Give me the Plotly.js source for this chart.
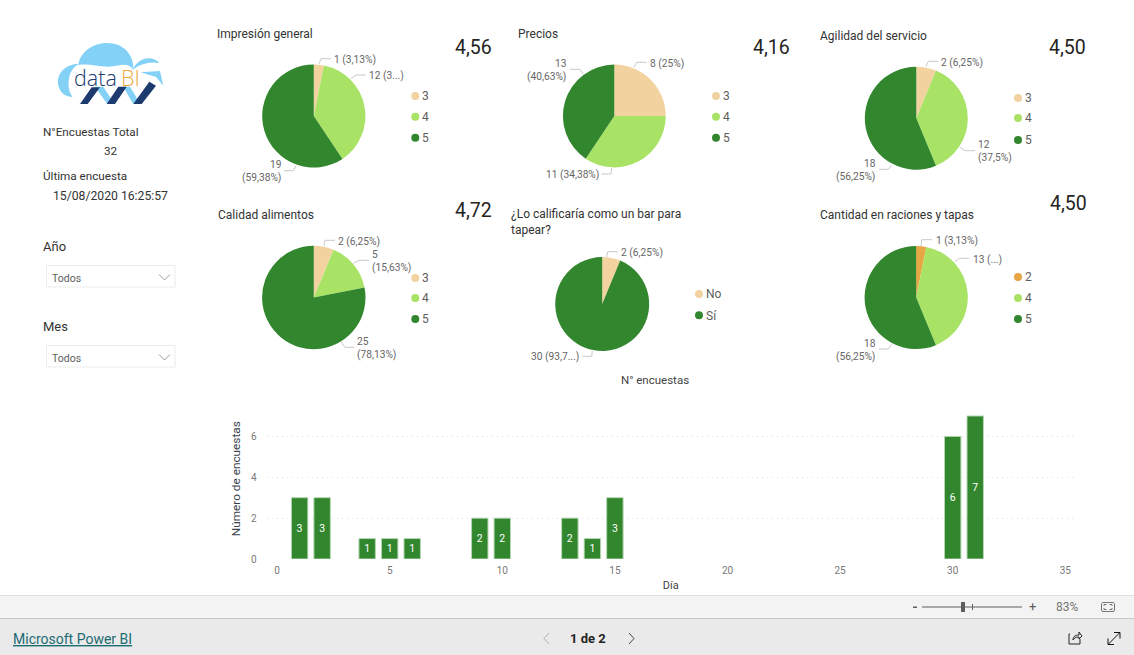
<!DOCTYPE html>
<html><head><meta charset="utf-8">
<script src="https://cdn.plot.ly/plotly-3.0.1.min.js"></script>
<style>html,body{margin:0;padding:0;background:#fff;overflow:hidden}#c{width:1134px;height:655px}</style>
</head><body><div id="c"></div>
<script>
// ---- data ----
const pieTitles = ["Impresión general","Precios","Agilidad del servicio","Calidad alimentos","¿Lo calificaría como un bar para<br>tapear?","Cantidad en raciones y tapas"];
const pieLabels1 = ["3","4","5"];
const pieValues1 = [1,12,19];
const pieLabels2 = ["3","4","5"];
const pieValues2 = [8,11,13];
const pieLabels3 = ["3","4","5"];
const pieValues3 = [2,12,18];
const pieLabels4 = ["3","4","5"];
const pieValues4 = [2,5,25];
const pieLabels5 = ["No","Sí"];
const pieValues5 = [2,30];
const pieLabels6 = ["2","4","5"];
const pieValues6 = [1,13,18];
const kpiValues = ["4,56","4,16","4,50","4,72","4,50"];
const days = [1,2,4,5,6,9,10,13,14,15,30,31];
const surveys = [3,3,1,1,1,2,2,2,1,3,6,7];

// ---- style / layout helpers ----
const W=1134,H=655;
const FONT="Roboto, sans-serif";
const colorOf={"2":"#E8A544","3":"#F2D3A0","4":"#A8E366","5":"#32872E","No":"#F2D3A0","Sí":"#32872E"};
const X=x=>x/W, Y=y=>1-y/H;
const shapes=[],ann=[];
function P(d){let i=0;return d.replace(/-?\d+(\.\d+)?/g,m=>{const v=(i++%2===0)?X(+m):Y(+m);return v.toFixed(5);});}
function path(d,o){shapes.push(Object.assign({type:"path",xref:"paper",yref:"paper",path:P(d),line:{width:0}},o));}
function rect(x0,y0,x1,y1,o){shapes.push(Object.assign({type:"rect",xref:"paper",yref:"paper",x0:X(x0),x1:X(x1),y0:Y(y0),y1:Y(y1),line:{width:0}},o));}
function dot(x,y,r,c){shapes.push({type:"circle",xref:"paper",yref:"paper",x0:X(x-r),x1:X(x+r),y0:Y(y+r),y1:Y(y-r),fillcolor:c,line:{width:0}});}
function T(text,x,y,size,color,anchor,extra){
  const dx=anchor==="right"?1.5:(anchor==="center"?0:-1);
  ann.push(Object.assign({text,xref:"paper",yref:"paper",x:X(x+dx),y:Y(y),xanchor:anchor||"left",yanchor:"middle",align:anchor==="right"?"right":(anchor==="center"?"center":"left"),showarrow:false,borderpad:0,font:{family:FONT,size,color}},extra||{}));}
const leader={line:{color:"#c8c8c8",width:1}};
function L(a,b,c){path(`M${a[0]},${a[1]} L${b[0]},${b[1]} L${c[0]},${c[1]}`,leader);}

// ---- pies ----
const pieGeom=[[313.8,116,51.6],[614.3,116,51.4],[916.3,118.2,51.5],[313.8,297.5,51.7],[602.2,304,47],[916.2,297.5,51.6]];
const pieL=[pieLabels1,pieLabels2,pieLabels3,pieLabels4,pieLabels5,pieLabels6];
const pieV=[pieValues1,pieValues2,pieValues3,pieValues4,pieValues5,pieValues6];
const traces=pieGeom.map((g,i)=>({
  type:"pie",labels:pieL[i],values:pieV[i],sort:false,direction:"clockwise",rotation:0,
  textinfo:"none",hoverinfo:"label+value+percent",
  marker:{colors:pieL[i].map(l=>colorOf[l]),line:{width:0}},
  domain:{x:[X(g[0]-g[2]),X(g[0]+g[2])],y:[Y(g[1]+g[2]),Y(g[1]-g[2])]}
}));
traces.push({type:"bar",x:days,y:surveys,width:0.73,text:surveys.map(String),textposition:"inside",insidetextanchor:"middle",textangle:0,
  insidetextfont:{family:FONT,size:10.5,color:"#fff"},marker:{color:"#32872E",line:{color:"#b4d6b2",width:1}},xaxis:"x",yaxis:"y",cliponaxis:false});

// pie titles
const titlePos=[[217,34],[518,34],[819.5,36],[217.5,215],[510.5,221.5],[819.5,215]];
pieTitles.forEach((t,i)=>T(t,titlePos[i][0],titlePos[i][1],12,"#333"));
// KPI numbers
const kpiPos=[[491.5,48],[789.5,48],[1085.5,47],[491,211],[1086.5,203]];
kpiValues.forEach((t,i)=>T(t,kpiPos[i][0],kpiPos[i][1],19.5,"#252423","right"));

// legends
const legPos=[[415.3,[96,116.7,137.7]],[716,[96,116.7,137.7]],[1018,[98,118,140]],[415.3,[278,298,319]],[699,[294,315.3]],[1018,[277,298,319]]];
legPos.forEach((p,i)=>{pieL[i].forEach((l,k)=>{dot(p[0],p[1][k],4,colorOf[l]);T(l,p[0]+6.8,p[1][k]+0.3,12,"#605E5C");});});

// data labels with leaders
const lab="#666",LS=10.2;
L([319,63.7],[321,58.7],[330.7,58.7]);T("1 (3,13%)",333.7,60,LS,lab);
L([351,78.7],[356,75],[365.7,75]);T("12 (3...)",368.7,76,LS,lab);
L([296,165.7],[293.3,170.7],[284,170.7]);T("19<br>(59,38%)",281,171.5,LS,lab,"right");
L([634,67],[636.7,62.3],[646.7,62.3]);T("8 (25%)",649.7,63.7,LS,lab);
L([583.3,74],[580,69.3],[570,69.3]);T("13<br>(40,63%)",566,70.5,LS,lab,"right");
L([611.7,168],[611,174],[601.7,174]);T("11 (34,38%)",598,175,LS,lab,"right");
L([926,66.7],[928.3,61.3],[938.3,61.3]);T("2 (6,25%)",941,62.7,LS,lab);
L([960,147.3],[965,150.7],[975,150.7]);T("12<br>(37,5%)",977.7,151,LS,lab);
L([891.7,165],[888.3,169.3],[879,169.3]);T("18<br>(56,25%)",875.7,170.5,LS,lab,"right");
L([324,245.7],[325,240.3],[335,240.3]);T("2 (6,25%)",338.3,242,LS,lab);
L([353.3,263.3],[359,260.3],[369,260.3]);T("5<br>(15,63%)",372.3,261.5,LS,lab);
L([341,341.7],[345,347.3],[354.3,347.3]);T("25<br>(78,13%)",357,348.5,LS,lab);
L([606.7,257],[607.7,251.7],[617.7,251.7]);T("2 (6,25%)",621,253,LS,lab);
L([592.3,351],[591.7,356.3],[582.3,356.3]);T("30 (93,7...)",578.3,357,LS,lab,"right");
L([921,246],[921.7,239.7],[932.3,239.7]);T("1 (3,13%)",936.3,240.7,LS,lab);
L([955,261.7],[959.3,258.3],[969.3,258.3]);T("13 (...)",973,259.7,LS,lab);
L([891.7,344.3],[888.3,349],[879,349]);T("18<br>(56,25%)",875.7,350.5,LS,lab,"right");

// ---- left panel ----
T("N°Encuestas Total",43,132,11.7,"#333");
T("32",111,151,11.7,"#333","center");
T("Última encuesta",43,176,11.7,"#333");
T("15/08/2020 16:25:57",53,196,12.2,"#333");
T("Año",43,246,13,"#333");
T("Mes",43,326.5,13,"#333");
[[265,278],[345,358]].forEach(b=>{
  rect(46.5,b[0]+0.5,175,b[0]+22,{line:{color:"#ececec",width:1},fillcolor:"#fff"});
  T("Todos",52,b[1],10.5,"#605E5C");
  path(`M159,${b[1]-3.5} L164.5,${b[1]+2} L170,${b[1]-3.5}`,{line:{color:"#9a9a9a",width:1}});
});

// logo (coordinates are pixels of the page)
const O=(x,y)=>`${(50+x/3).toFixed(1)},${(35+y/3).toFixed(1)}`;
const sky="#83D1F7",navy="#1C3A6E";
path(`M${O(88,86)} C${O(45,86)} ${O(12,120)} ${O(28,160)} C${O(33,175)} ${O(48,186)} ${O(68,186)} C${O(50,165)} ${O(48,105)} ${O(88,86)} Z`,{fillcolor:sky});
path(`M${O(85,90)} C${O(90,50)} ${O(130,24)} ${O(170,24)} C${O(222,24)} ${O(252,60)} ${O(250,104)} C${O(232,78)} ${O(205,95)} ${O(175,95)} C${O(140,95)} ${O(115,85)} ${O(85,90)} Z`,{fillcolor:sky});
path(`M${O(248,104)} C${O(262,70)} ${O(305,58)} ${O(328,84)} C${O(300,78)} ${O(268,88)} ${O(248,104)} Z`,{fillcolor:sky});
path(`M${O(272,112)} L${O(330,108)} L${O(340,152)} L${O(318,126)} Z`,{fillcolor:sky});
path(`M${O(135,155)} L${O(160,155)} L${O(192,205)} L${O(170,205)} Z`,{fillcolor:sky});
path(`M${O(220,155)} L${O(240,155)} L${O(270,205)} L${O(248,205)} Z`,{fillcolor:sky});
path(`M${O(90,207)} L${O(125,157)} L${O(150,157)} L${O(113,207)} Z`,{fillcolor:navy});
path(`M${O(170,207)} L${O(205,155)} L${O(230,155)} L${O(195,207)} Z`,{fillcolor:navy});
path(`M${O(250,207)} L${O(298,140)} L${O(318,152)} L${O(275,207)} Z`,{fillcolor:navy});
ann.push({text:"data",xref:"paper",yref:"paper",x:X(71.5),y:Y(77),xanchor:"left",yanchor:"middle",showarrow:false,font:{family:"Open Sans, sans-serif",size:21.5,color:navy,weight:300}});
ann.push({text:"BI",xref:"paper",yref:"paper",x:X(119),y:Y(77),xanchor:"left",yanchor:"middle",showarrow:false,font:{family:"Open Sans, sans-serif",size:21.5,color:"#E9A93F",weight:300}});

// ---- footer ----
rect(0,595.5,W,618,{fillcolor:"#F3F3F3",layer:"below"});
rect(0,595,W,596,{fillcolor:"#E1E1E1",layer:"below"});
rect(0,618,W,655,{fillcolor:"#EAEAEA",layer:"below"});
rect(0,618,W,619,{fillcolor:"#C8C8C8",layer:"below"});
rect(913,606.5,917,608,{fillcolor:"#605E5C"});
rect(922,606.5,1022,607.5,{fillcolor:"#605E5C"});
rect(961,602,965,612,{fillcolor:"#605E5C"});
rect(972,604,973,610,{fillcolor:"#605E5C"});
T("+",1032,606.5,13,"#605E5C","center");
T("83%",1067,607,12,"#777","center");
path("M1103,602.5 L1113,602.5 C1114,602.5 1114.5,603 1114.5,604 L1114.5,610 C1114.5,611 1114,611.5 1113,611.5 L1103,611.5 C1102,611.5 1101.5,611 1101.5,610 L1101.5,604 C1101.5,603 1102,602.5 1103,602.5 Z",{line:{color:"#777",width:1}});
path("M1104,606 L1104,604.5 L1106.5,604.5 M1109.5,604.5 L1112,604.5 L1112,606 M1112,608 L1112,609.5 L1109.5,609.5 M1106.5,609.5 L1104,609.5 L1104,608",{line:{color:"#777",width:1}});
T("Microsoft Power BI",13,639,14,"#1B6B73","left",{text:"<u>Microsoft Power BI</u>"});
T("1 de 2",587.5,638,13,"#252423","center",{text:"<b>1 de 2</b>"});
path("M549,633 L544,638.5 L549,644",{line:{color:"#b0b0b0",width:1}});
path("M629,633 L634,638.5 L629,644",{line:{color:"#444",width:1}});
path("M1070,634 L1069,634 L1069,644 L1080,644 L1080,639",{line:{color:"#252423",width:1}});
path("M1073,640 C1073,636 1076,635 1079,635 L1079,632 L1082,636 L1079,639 L1079,637 C1076,637 1074,638 1073,640",{line:{color:"#252423",width:1}});
path("M1108.5,644 L1119.5,633",{line:{color:"#111",width:1}});
path("M1114,632.5 L1120,632.5 L1120,638.5",{line:{color:"#111",width:1}});
path("M1108,638.5 L1108,644.5 L1114,644.5",{line:{color:"#111",width:1}});

const tickF={family:FONT,size:10,color:"#777"};
const NOTICK="rgba(0,0,0,0)";
const layout={
  width:W,height:H,margin:{l:0,r:0,t:0,b:0,pad:0},paper_bgcolor:"#fff",plot_bgcolor:"rgba(0,0,0,0)",showlegend:false,
  font:{family:FONT},
  title:{text:"N° encuestas",x:X(655),y:Y(380),xanchor:"center",yanchor:"middle",xref:"paper",yref:"paper",font:{family:FONT,size:11.5,color:"#444"}},
  xaxis:{domain:[X(266.5),X(1075)],range:[-0.47,35.43],dtick:5,tick0:0,showgrid:false,zeroline:false,showline:false,ticks:"outside",ticklen:2,tickcolor:NOTICK,tickfont:tickF,automargin:false,
    title:{text:"Día",font:{family:FONT,size:11,color:"#444"},standoff:6}},
  yaxis:{domain:[Y(559),Y(398.4)],range:[0,7.86],dtick:2,tick0:0,showgrid:true,gridcolor:"#dfdfdf",griddash:"1px,4px",gridwidth:1,zeroline:false,showline:false,ticks:"outside",ticklen:7,tickcolor:NOTICK,tickfont:tickF,automargin:false,
    title:{text:"Número de encuestas",font:{family:FONT,size:11.8,color:"#3a4250"},standoff:7}},
  shapes:shapes,annotations:ann,bargap:0.27
};
Plotly.newPlot("c",traces,layout,{displayModeBar:false,responsive:false});
</script></body></html>
